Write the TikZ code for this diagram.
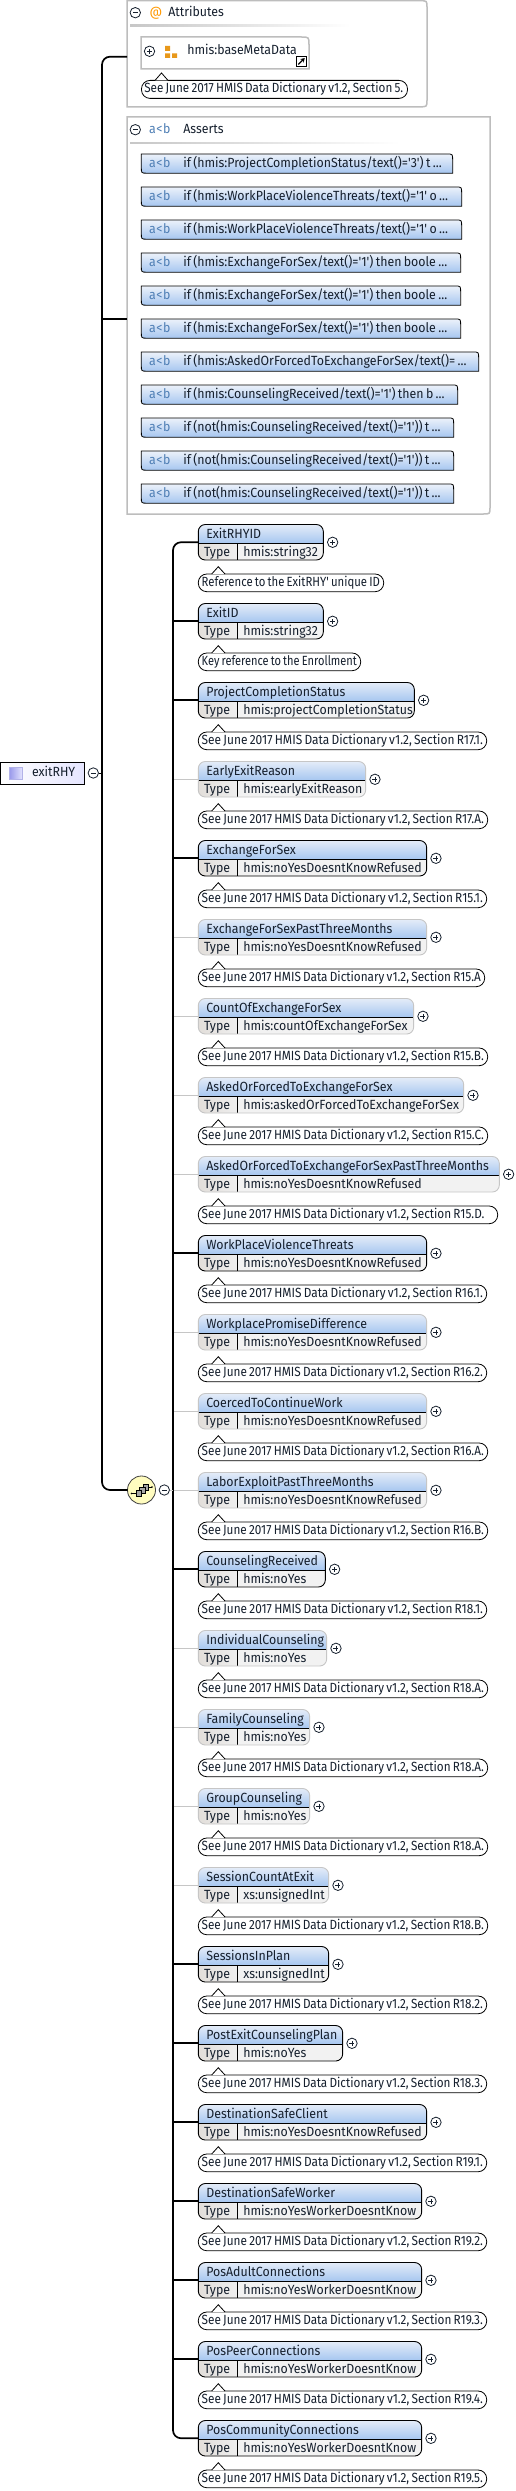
\documentclass[tikz,border=0pt]{standalone}
\usepackage{fontspec}
\usepackage{graphicx}
\usetikzlibrary{arrows.meta}
\newfontfamily\uifont[FakeStretch=0.93]{Fira Sans}
\newfontfamily\notefont[FakeStretch=0.93,WordSpace=0.85]{Fira Sans}
\definecolor{hdtop}{HTML}{E4ECF8}
\definecolor{hdbot}{HTML}{A6C6F0}
\definecolor{tyL}{HTML}{E2DEDA}
\definecolor{tyR}{HTML}{EEEEEE}
\definecolor{valbg}{HTML}{F2F2F2}
\definecolor{optgray}{HTML}{C6C6C6}
\definecolor{boxgray}{HTML}{BDBDBD}
\definecolor{abblue}{HTML}{4F7FB5}
\definecolor{ink}{HTML}{16202E}
\definecolor{orng}{HTML}{E8981A}
\newcommand\abtext{a\kern.6pt<\kern.6pt b}
\newsavebox\fitsave
% target width (pt), text: set the text squeezed horizontally to exactly that width
\newcommand\fitto[2]{\sbox\fitsave{#2}\pgfmathsetmacro\fitfac{#1/\the\wd\fitsave}\scalebox{\fitfac}[1]{\usebox\fitsave}}
\tikzset{
  ui/.style={font=\uifont\fontsize{13.3}{16}\selectfont,text=ink,inner sep=0pt,outer sep=0pt,anchor=base west},
  noteui/.style={font=\notefont\fontsize{13.3}{16}\selectfont,text=ink,inner sep=0pt,outer sep=0pt,anchor=base west},
  req/.style={draw=black,line width=.9pt},
  opt/.style={draw=optgray,line width=.9pt},
  elbox/.style={rectangle,rounded corners=7pt,inner sep=0pt,outer sep=0pt,anchor=north west},
  notebox/.style={rectangle,rounded corners=8.5pt,draw=black,line width=.8pt,fill=white,inner sep=0pt,outer sep=0pt,anchor=north west},
  reqw/.style={draw=black,line width=1.7pt},
  optw/.style={draw=optgray,line width=.7pt},
  nowire/.style={draw=none},
  sign/.style={circle,draw=ink,line width=.8pt,fill=white,minimum size=10.4pt,inner sep=0pt},
  frame/.style={draw=boxgray,line width=1.5pt,fill=white},
  square/.style={rectangle,draw=black,line width=.7pt,fill=gray!70,minimum size=5.5pt,inner sep=0pt},
}
\newcommand\PlusAt[3]{\node[sign] (#1) at (#2,#3) {};
  \draw[ink,line width=.7pt] ([xshift=-2.5pt]#1.center) -- ([xshift=2.5pt]#1.center) ([yshift=-2.5pt]#1.center) -- ([yshift=2.5pt]#1.center);}
\newcommand\MinusAt[3]{\node[sign] (#1) at (#2,#3) {};
  \draw[ink,line width=.7pt] ([xshift=-2.5pt]#1.center) -- ([xshift=2.5pt]#1.center);}
% idx, name, type, right*3, noteright*3, note, border style, wire style
\newcommand\Elem[8]{%
  \pgfmathsetmacro\T{524.5+79*(#1-1)}%
  \pgfmathsetmacro\R{#4/3}%
  \pgfmathsetmacro\W{\R-198.3}%
  \pgfmathsetmacro\HB{\T+18.8}%
  \pgfmathsetmacro\B{\T+35.5}%
  \pgfmathsetmacro\NR{#5/3}%
  \pgfmathsetmacro\NW{\NR-198.3}%
  \pgfmathsetmacro\NTW{\NR-205.4}%
  \pgfmathsetmacro\NT{\T+49.5}%
  \pgfmathsetmacro\TB{\T+13.8}%
  \pgfmathsetmacro\VB{\T+31.5}%
  \pgfmathsetmacro\NB{\T+61.5}%
  \pgfmathsetmacro\AP{\NT-7.3}%
  \begin{scope}
    \clip[rounded corners=7pt] (198.3,\T) rectangle (\R,\B);
    \shade[top color=hdtop,bottom color=hdbot] (198.3,\T) rectangle (\R,\HB);
    \fill[valbg] (237.3,\HB) rectangle (\R,\B);
    \shade[left color=tyL,right color=tyR] (198.3,\HB) rectangle (237.3,\B);
  \end{scope}
  \draw[black,line width=.8pt] (198.3,\HB) -- (\R,\HB) (237.3,\HB) -- (237.3,\B);
  \node[elbox,#7,minimum width=\W pt,minimum height=35.5pt] (el#1) at (198.3,\T) {};
  \node[ui] (name#1) at (206.3,\TB) {#2};
  \node[ui] (tlab#1) at (204,\VB) {Type};
  \node[ui] (tval#1) at (243.3,\VB) {#3};
  \pgfmathsetmacro\PX{\R+9.3}%
  \pgfmathsetmacro\PY{\T+17.8}%
  \PlusAt{pm#1}{\PX}{\PY}
  \node[notebox,minimum width=\NW pt,minimum height=17.7pt] (nb#1) at (198.3,\NT) {};
  \fill[white] (211.7,\NT) -- (218.3,\AP) -- (225,\NT) -- cycle;
  \draw[black,line width=.8pt] (211.7,\NT) -- (218.3,\AP) -- (225,\NT);
  \node[noteui] (nt#1) at (201.7,\NB) {\fitto{\NTW}{#6}};
  \draw[#8] (el#1.west) -- (el#1.west -| busA);
}
% idx, right*3, text
\newcommand\Assert[3]{%
  \pgfmathsetmacro\T{154+33*(#1-1)}%
  \pgfmathsetmacro\R{#2/3}%
  \pgfmathsetmacro\B{\T+19.2}%
  \pgfmathsetmacro\TB{\T+13.7}%
  \draw[black,line width=.8pt,top color=hdtop!70!white,bottom color=hdbot]
    (141.3,\T) -- (\R-6,\T) .. controls (\R,\T) .. (\R,\T+6) -- (\R,\B) -- (147.3,\B) .. controls (141.3,\B) .. (141.3,\B-6) -- cycle;
  \node[ui,text=abblue] (ab#1) at (149,\TB) {\abtext};
  \node[ui] (as#1) at (183.3,\TB) {#3};
}
\begin{document}
\begin{tikzpicture}[x=1pt,y=-1pt]
\useasboundingbox (0,0) rectangle (516,2491);
\fill[white] (0,0) rectangle (516,2491);
\coordinate (busA) at (173,1490);
\coordinate (busL) at (102,773);
\coordinate (attrin) at (127,56.7);
\coordinate (assertin) at (127,319);

% Attributes frame
\draw[frame] (127,.7) -- (420,.7) .. controls (427,.7) .. (427,7.7) -- (427,99.5) .. controls (427,106.8) .. (420,106.8) -- (127,106.8) -- cycle;
\shade[left color=black!22,right color=white] (130,25) rectangle (350,26.4);
\MinusAt{attrminus}{135.3}{12.7}
\node[ui,text=orange!80!yellow] (attricon) at (149.5,17) {@};
\node[ui] (attrlabel) at (168.3,16.7) {Attributes};
% baseMetaData
\draw[frame] (141,37) -- (301,37) .. controls (309,37) .. (309,45) -- (309,69) -- (141,69) -- cycle;
\PlusAt{basemeta}{149.5}{51.3}
\fill[orng] (165,46) rectangle (170,51) (165,53.5) rectangle (170,58) (172,53.5) rectangle (177,58);
\node[ui] (basename) at (187.3,54.3) {hmis:baseMetaData};
\node[rectangle,draw=black,line width=1pt,fill=white,minimum size=9.5pt,inner sep=0pt] (shortcut) at (301.3,61.5) {};
\draw[black,line width=1.3pt,-{Stealth[length=4pt,width=5pt]}] ([shift={(-3pt,-3pt)}]shortcut.center) -- ([shift={(3.4pt,3.4pt)}]shortcut.center);
\node[notebox,minimum width=266pt,minimum height=18pt] (basenote) at (141.5,80.4) {};
\fill[white] (155,80.4) -- (161.5,73) -- (168,80.4) -- cycle;
\draw[black,line width=.8pt] (155,80.4) -- (161.5,73) -- (168,80.4);
\node[noteui] (basetext) at (144.3,92.7) {\fitto{259}{See June 2017 HMIS Data Dictionary v1.2, Section 5.}};

% Asserts frame
\draw[frame] (127,117) -- (490,117) -- (490,507) .. controls (490,514) .. (483,514) -- (127,514) -- cycle;
\shade[left color=black!22,right color=white] (130,142.5) rectangle (400,143.9);
\MinusAt{assertminus}{135.3}{129.7}
\node[ui,text=abblue] (assertab) at (149,133.4) {\abtext};
\node[ui] (assertlabel) at (183.3,133.4) {Asserts};
\Assert{1}{1358}{if (hmis:ProjectCompletionStatus/text()='3') t ...}
\Assert{2}{1385}{if (hmis:WorkPlaceViolenceThreats/text()='1' o ...}
\Assert{3}{1385}{if (hmis:WorkPlaceViolenceThreats/text()='1' o ...}
\Assert{4}{1382}{if (hmis:ExchangeForSex/text()='1') then boole ...}
\Assert{5}{1382}{if (hmis:ExchangeForSex/text()='1') then boole ...}
\Assert{6}{1382}{if (hmis:ExchangeForSex/text()='1') then boole ...}
\Assert{7}{1436}{if (hmis:AskedOrForcedToExchangeForSex/text()= ...}
\Assert{8}{1373}{if (hmis:CounselingReceived/text()='1') then b ...}
\Assert{9}{1361}{if (not(hmis:CounselingReceived/text()='1')) t ...}
\Assert{10}{1361}{if (not(hmis:CounselingReceived/text()='1')) t ...}
\Assert{11}{1361}{if (not(hmis:CounselingReceived/text()='1')) t ...}

% Elements
\def\S{See June 2017 HMIS Data Dictionary v1.2, Section }
\Elem{1}{ExitRHYID}{hmis:string32}{970}{1151}{Reference to the ExitRHY' unique ID}{req}{nowire}
\Elem{2}{ExitID}{hmis:string32}{970}{1082}{Key reference to the Enrollment}{req}{reqw}
\Elem{3}{ProjectCompletionStatus}{hmis:projectCompletionStatus}{1243}{1460}{\S R17.1.}{req}{reqw}
\Elem{4}{EarlyExitReason}{hmis:earlyExitReason}{1097}{1463}{\S R17.A.}{opt}{optw}
\Elem{5}{ExchangeForSex}{hmis:noYesDoesntKnowRefused}{1280}{1460}{\S R15.1.}{req}{reqw}
\Elem{6}{ExchangeForSexPastThreeMonths}{hmis:noYesDoesntKnowRefused}{1280}{1454}{\S R15.A}{opt}{optw}
\Elem{7}{CountOfExchangeForSex}{hmis:countOfExchangeForSex}{1241}{1463}{\S R15.B.}{opt}{optw}
\Elem{8}{AskedOrForcedToExchangeForSex}{hmis:askedOrForcedToExchangeForSex}{1391}{1463}{\S R15.C.}{opt}{optw}
\Elem{9}{AskedOrForcedToExchangeForSexPastThreeMonths}{hmis:noYesDoesntKnowRefused}{1498}{1493}{\S R15.D.\kern10pt}{opt}{optw}
\Elem{10}{WorkPlaceViolenceThreats}{hmis:noYesDoesntKnowRefused}{1280}{1460}{\S R16.1.}{req}{reqw}
\Elem{11}{WorkplacePromiseDifference}{hmis:noYesDoesntKnowRefused}{1280}{1460}{\S R16.2.}{opt}{optw}
\Elem{12}{CoercedToContinueWork}{hmis:noYesDoesntKnowRefused}{1280}{1463}{\S R16.A.}{opt}{optw}
\Elem{13}{LaborExploitPastThreeMonths}{hmis:noYesDoesntKnowRefused}{1280}{1463}{\S R16.B.}{opt}{optw}
\Elem{14}{CounselingReceived}{hmis:noYes}{976}{1460}{\S R18.1.}{req}{reqw}
\Elem{15}{IndividualCounseling}{hmis:noYes}{980}{1463}{\S R18.A.}{opt}{optw}
\Elem{16}{FamilyCounseling}{hmis:noYes}{929}{1463}{\S R18.A.}{opt}{optw}
\Elem{17}{GroupCounseling}{hmis:noYes}{929}{1463}{\S R18.A.}{opt}{optw}
\Elem{18}{SessionCountAtExit}{xs:unsignedInt}{986}{1463}{\S R18.B.}{opt}{optw}
\Elem{19}{SessionsInPlan}{xs:unsignedInt}{986}{1460}{\S R18.2.}{req}{reqw}
\Elem{20}{PostExitCounselingPlan}{hmis:noYes}{1028}{1460}{\S R18.3.}{req}{reqw}
\Elem{21}{DestinationSafeClient}{hmis:noYesDoesntKnowRefused}{1280}{1460}{\S R19.1.}{req}{reqw}
\Elem{22}{DestinationSafeWorker}{hmis:noYesWorkerDoesntKnow}{1265}{1460}{\S R19.2.}{req}{reqw}
\Elem{23}{PosAdultConnections}{hmis:noYesWorkerDoesntKnow}{1265}{1460}{\S R19.3.}{req}{reqw}
\Elem{24}{PosPeerConnections}{hmis:noYesWorkerDoesntKnow}{1265}{1460}{\S R19.4.}{req}{reqw}
\Elem{25}{PosCommunityConnections}{hmis:noYesWorkerDoesntKnow}{1265}{1460}{\S R19.5.}{req}{nowire}

% Root
\node[rectangle,draw=black,line width=.9pt,left color=white,right color=black!2!blue!10!white,minimum width=84pt,minimum height=22pt,inner sep=0pt,outer sep=0pt] (root) at (42.2,773.3) {};
\node[rectangle,left color=black!20!blue!40!white,right color=black!5!blue!12!white,draw=black!30!blue!30!white,line width=.4pt,minimum size=12.5pt,inner sep=0pt] (rooticon) at (15.5,773.3) {};
\node[ui] (rootname) at (32,776.7) {exitRHY};
\MinusAt{rootminus}{93.3}{773}

% Sequence compositor
\node[circle,draw=black!75,line width=.8pt,fill=yellow!25!white,minimum size=28pt,inner sep=0pt,outer sep=0pt] (seq) at (141.5,1490) {};
\draw[black,line width=.8pt] (131.5,1493.5) -- (136,1493.5) (147,1487) -- (152,1487);
\fill[black] (131.5,1493.5) circle (.9pt) (152,1487) circle (.9pt);
\node[square] (sq1) at (146,1487.5) {};
\node[square] (sq2) at (142.5,1490.5) {};
\node[square] (sq3) at (139,1493.5) {};
\MinusAt{seqminus}{164.3}{1490}

% Connectors
\draw[reqw,rounded corners=8pt] (attrin) -| (busL) |- (seq.west);
\draw[reqw] (assertin) -- (assertin -| busL);
\draw[black,line width=.8pt] (rootminus.east) -- (busL);
\draw[reqw,rounded corners=8pt] (el1.west) -| (busA) |- (el25.west);
\draw[optgray,line width=.7pt] (seqminus.east) -- (busA);
\end{tikzpicture}
\end{document}
